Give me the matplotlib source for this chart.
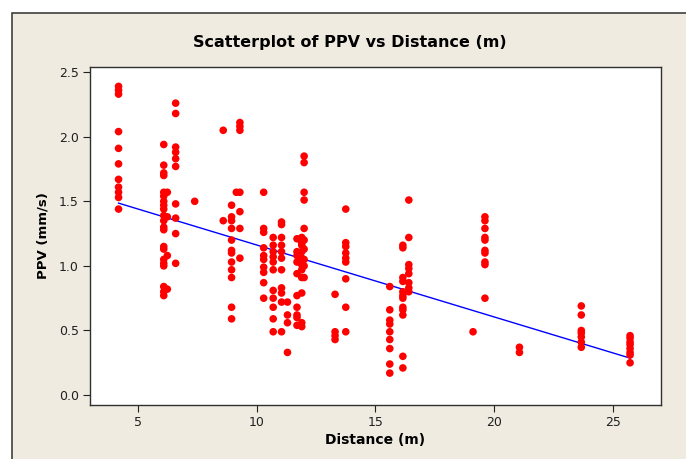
"""Scatterplot of PPV vs Distance with fitted line (Minitab style)."""

import matplotlib
matplotlib.use("Agg")
import matplotlib.pyplot as plt
import matplotlib.patches as mpatches
import numpy as np

# distance of each measurement group (m) and the PPV readings (mm/s) at it
distances = [4.2, 6.1, 6.25, 6.6, 7.4, 8.6, 8.95, 9.15, 9.3, 10.3, 10.7,
             11.05, 11.3, 11.7, 11.9, 12.0, 13.3, 13.75, 15.6, 16.15,
             16.4, 19.1, 19.6, 21.05, 23.65, 25.7]
ppv_groups = [
    [2.39, 2.36, 2.33, 2.04, 1.91, 1.79, 1.67, 1.61, 1.57, 1.53, 1.44],
    [1.94, 1.78, 1.72, 1.70, 1.57, 1.54, 1.50, 1.47, 1.44, 1.39, 1.35,
     1.30, 1.28, 1.15, 1.13, 1.05, 1.02, 1.00, 0.84, 0.80, 0.77],
    [1.57, 1.38, 1.08, 0.82],
    [2.26, 2.18, 1.92, 1.88, 1.83, 1.77, 1.48, 1.37, 1.25, 1.02],
    [1.50],
    [2.05, 1.35],
    [1.47, 1.38, 1.35, 1.29, 1.20, 1.12, 1.10, 1.03, 0.97, 0.91, 0.68, 0.59],
    [1.57],
    [2.11, 2.08, 2.05, 1.57, 1.42, 1.29, 1.06],
    [1.57, 1.29, 1.26, 1.14, 1.08, 1.05, 0.99, 0.95, 0.87, 0.75],
    [1.22, 1.16, 1.11, 1.07, 1.03, 0.97, 0.81, 0.75, 0.68, 0.59, 0.49],
    [1.34, 1.32, 1.22, 1.16, 1.11, 1.06, 0.97, 0.83, 0.79, 0.72, 0.49],
    [0.72, 0.62, 0.56, 0.33],
    [1.21, 1.11, 1.08, 1.03, 0.94, 0.77, 0.68, 0.62, 0.60, 0.54],
    [1.22, 1.18, 1.16, 1.11, 1.06, 1.01, 0.97, 0.91, 0.79, 0.56, 0.53],
    [1.85, 1.80, 1.57, 1.51, 1.29, 1.20, 1.13, 1.05, 1.00, 0.91],
    [0.78, 0.49, 0.46, 0.43],
    [1.44, 1.18, 1.15, 1.10, 1.06, 1.03, 0.90, 0.68, 0.49],
    [0.84, 0.66, 0.58, 0.55, 0.49, 0.43, 0.36, 0.24, 0.17],
    [1.16, 1.14, 0.91, 0.88, 0.80, 0.77, 0.75, 0.68, 0.66, 0.62, 0.30, 0.21],
    [1.51, 1.22, 1.01, 0.98, 0.94, 0.87, 0.83, 0.80],
    [0.49],
    [1.38, 1.35, 1.29, 1.22, 1.20, 1.12, 1.10, 1.03, 1.01, 0.75],
    [0.37, 0.33],
    [0.69, 0.62, 0.50, 0.48, 0.45, 0.41, 0.37],
    [0.46, 0.44, 0.41, 0.39, 0.36, 0.33, 0.31, 0.25],
]
# fitted line, at the smallest and largest distance
fit_ppv_ends = [1.486, 0.286]
x_ticks = [5, 10, 15, 20, 25]
y_ticks = [0.0, 0.5, 1.0, 1.5, 2.0, 2.5]

x = np.concatenate([[d] * len(g) for d, g in zip(distances, ppv_groups)])
y = np.concatenate(ppv_groups)
fit_x = [min(distances), max(distances)]

beige = "#EFEBE1"
fig = plt.figure(figsize=(6.86, 4.59), dpi=100, facecolor="white")
fig.patches.append(mpatches.Rectangle(
    (12 / 686, -0.1), 1.2, 1.1 - 13 / 459, transform=fig.transFigure,
    facecolor=beige, edgecolor="#404040", linewidth=1.2, zorder=-1))

ax = fig.add_axes([90 / 686, 1 - 405 / 459, 571 / 686, 338 / 459])
ax.set_zorder(1)
ax.set_facecolor("white")

ax.scatter(x, y, s=30, color="#FF0000", edgecolors="none", zorder=3)
ax.plot(fit_x, fit_ppv_ends, color="#0000FF", linewidth=1.0, zorder=2)

ax.set_xlim(3.0, 27.0)
ax.set_ylim(-0.077, 2.54)
ax.set_xticks(x_ticks)
ax.set_xticklabels([str(t) for t in x_ticks])
ax.set_yticks(y_ticks)
ax.set_yticklabels([f"{t:.1f}" for t in y_ticks])
ax.tick_params(direction="out", length=5, width=0.8, labelsize=9,
               colors="#202020", pad=3)
for sp in ax.spines.values():
    sp.set_color("#303030")
    sp.set_linewidth(1.0)

ax.set_xlabel("Distance (m)", fontsize=10, fontweight="bold", labelpad=3)
ax.set_ylabel("PPV (mm/s)", fontsize=9.5, fontweight="bold", labelpad=7)
fig.text(350 / 686, 1 - 43 / 459, "Scatterplot of PPV vs Distance (m)",
         ha="center", va="center", fontsize=11.5, fontweight="bold")

fig.savefig("out.png", dpi=100, facecolor=fig.get_facecolor())
plt.close(fig)
